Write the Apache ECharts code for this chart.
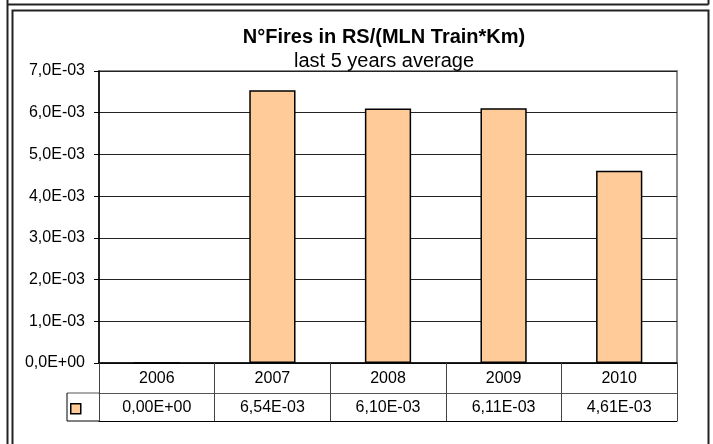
<!DOCTYPE html>
<html>
<head>
<meta charset="utf-8">
<script src="https://cdn.jsdelivr.net/npm/echarts@6/dist/echarts.min.js"></script>
<style>
html,body{margin:0;padding:0;background:#fff;}
#chart{width:713px;height:444px;}
</style>
</head>
<body>
<div id="chart"></div>
<script>
var categories = ['2006', '2007', '2008', '2009', '2010'];
var seriesValues = [0, 0.00654, 0.00610, 0.00611, 0.00461];
var yTicks = [0, 0.001, 0.002, 0.003, 0.004, 0.005, 0.006, 0.007];
var titleText = 'N°Fires in RS/(MLN Train*Km)';
var subtitleText = 'last 5 years average';
var seriesName = 'N°Fires in RS/(MLN Train*Km)';

function sci(v, d) {
  if (Math.abs(v) < 1e-15) return (0).toFixed(d).replace('.', ',') + 'E+00';
  var s = v.toExponential(d).split('e');
  var m = s[0].replace('.', ',');
  var e = parseInt(s[1], 10);
  var sign = e < 0 ? '-' : '+';
  var a = Math.abs(e);
  return m + 'E' + sign + (a < 10 ? '0' + a : '' + a);
}

var FONT = 'Liberation Sans, Arial, sans-serif';
var chart = echarts.init(document.getElementById('chart'), null, {renderer: 'canvas'});
var option = {
  animation: false,
  backgroundColor: '#fff',
  title: {
    text: titleText,
    subtext: subtitleText,
    left: 384,
    top: 27,
    padding: 0,
    textAlign: 'center',
    itemGap: 4,
    textStyle: {fontFamily: FONT, fontSize: 20, fontWeight: 'bold', color: '#000'},
    subtextStyle: {fontFamily: FONT, fontSize: 20, color: '#000'}
  },
  legend: {
    show: true,
    left: 70,
    top: 403,
    padding: 0,
    icon: 'rect',
    itemWidth: 10,
    itemHeight: 10,
    formatter: function () { return ''; },
    itemStyle: {borderColor: '#000', borderWidth: 1.5},
    selectedMode: false,
    data: [seriesName]
  },
  grid: {
    left: 99, right: 36, top: 71, bottom: 81,
    show: true,
    borderColor: '#8c8c8c',
    borderWidth: 2,
    backgroundColor: 'transparent'
  },
  xAxis: [
    {
      type: 'category',
      data: categories,
      position: 'bottom',
      boundaryGap: true,
      axisLine: {show: true, lineStyle: {color: '#000', width: 1.5}},
      axisTick: {show: true, alignWithLabel: false, length: 58, inside: false, lineStyle: {color: '#444', width: 1}},
      axisLabel: {show: true, margin: 8, fontFamily: FONT, fontSize: 16, color: '#000'},
      splitLine: {show: false}
    },
    {
      type: 'category',
      data: categories,
      position: 'bottom',
      offset: 30,
      boundaryGap: true,
      axisLine: {show: true, lineStyle: {color: '#555', width: 1}},
      axisTick: {show: false},
      axisLabel: {
        show: true, margin: 7, fontFamily: FONT, fontSize: 16, color: '#000',
        formatter: function (v, i) { return sci(seriesValues[i], 2); }
      },
      splitLine: {show: false}
    },
    {
      type: 'category',
      data: categories,
      position: 'bottom',
      offset: 58,
      boundaryGap: true,
      axisLine: {show: true, lineStyle: {color: '#000', width: 1}},
      axisTick: {show: false},
      axisLabel: {show: false},
      splitLine: {show: false}
    }
  ],
  yAxis: {
    type: 'value',
    min: yTicks[0],
    max: yTicks[yTicks.length - 1],
    interval: 0.001,
    axisLine: {show: true, lineStyle: {color: '#000', width: 1.5}},
    axisTick: {show: true, length: 5, lineStyle: {color: '#000'}},
    axisLabel: {
      margin: 14, fontFamily: FONT, fontSize: 16, color: '#000',
      formatter: function (v) { return sci(v, 1); }
    },
    splitLine: {show: true, lineStyle: {color: '#222', width: 1}}
  },
  series: [{
    name: seriesName,
    type: 'bar',
    xAxisIndex: 0,
    data: seriesValues,
    barWidth: '40%',
    itemStyle: {color: '#FFCC99', borderColor: '#000', borderWidth: 1.5}
  }],
  graphic: [
    {type: 'line', shape: {x1: 7.5, y1: -5, x2: 7.5, y2: 450}, style: {stroke: '#222', lineWidth: 2}},
    {type: 'line', shape: {x1: 7.5, y1: 4.5, x2: 708.5, y2: 4.5}, style: {stroke: '#222', lineWidth: 2}},
    {type: 'line', shape: {x1: 708.5, y1: -5, x2: 708.5, y2: 4.5}, style: {stroke: '#222', lineWidth: 2}},
    {type: 'rect', shape: {x: 12.5, y: 10.5, width: 696, height: 450}, style: {fill: 'none', stroke: '#222', lineWidth: 2}},
    {type: 'line', shape: {x1: 67, y1: 393, x2: 99, y2: 393}, style: {stroke: '#555', lineWidth: 1}},
    {type: 'line', shape: {x1: 67, y1: 421, x2: 99, y2: 421}, style: {stroke: '#000', lineWidth: 1}},
    {type: 'line', shape: {x1: 67, y1: 393, x2: 67, y2: 421}, style: {stroke: '#000', lineWidth: 1}}
  ]
};
chart.setOption(option);
</script>
</body>
</html>
